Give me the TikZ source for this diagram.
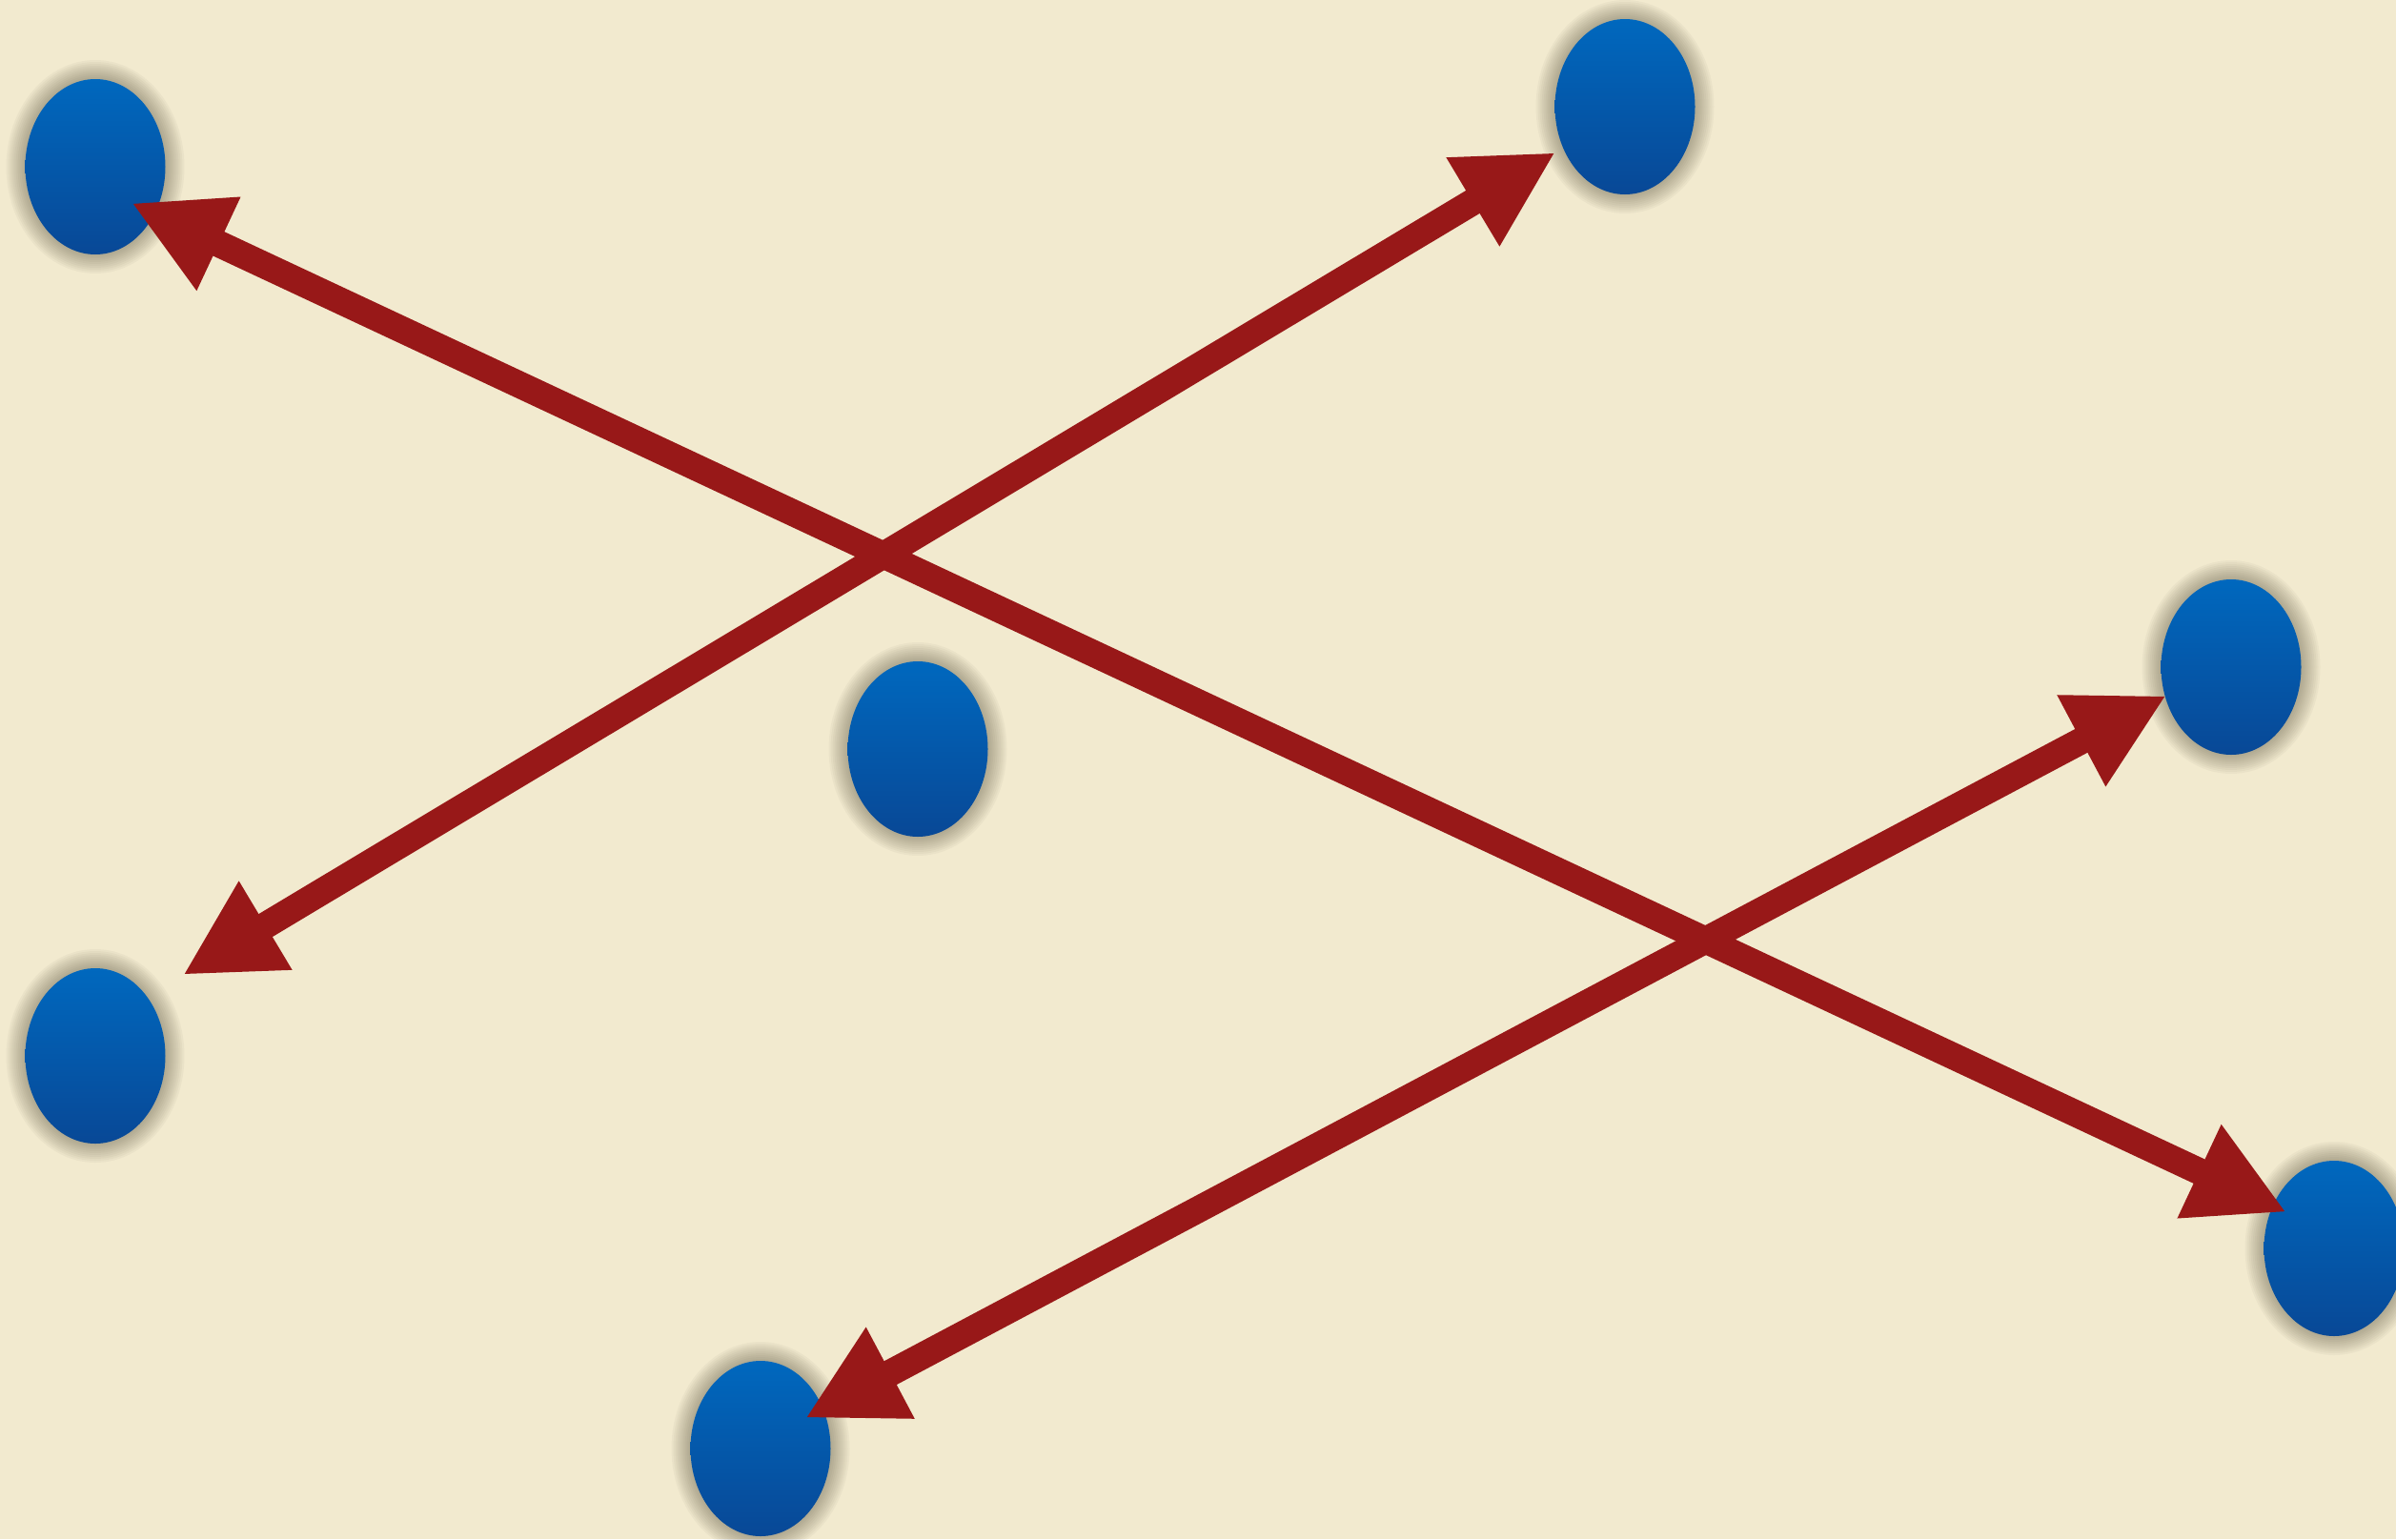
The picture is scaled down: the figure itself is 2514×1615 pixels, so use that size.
\documentclass[tikz,border=0pt]{standalone}
\usetikzlibrary{arrows.meta,shapes.geometric}
\definecolor{bgc}{RGB}{242,234,207}
\definecolor{arrc}{RGB}{152,24,24}
\definecolor{btop}{RGB}{0,104,190}
\definecolor{bbot}{RGB}{8,72,150}
\definecolor{shadc}{RGB}{60,55,35}
\begin{document}
\begin{tikzpicture}[x=1pt,y=-1pt,
  dot/.style={ellipse,minimum width=147pt,minimum height=184pt,inner sep=0pt,
    top color=btop,bottom color=bbot,draw=none},
  link/.style={draw=arrc,line width=28pt,{Triangle[length=101pt,width=101pt]}-{Triangle[length=101pt,width=101pt]}}]
\fill[bgc] (0,0) rectangle (2514,1615);
\useasboundingbox (0,0) rectangle (2514,1615);
\foreach \px/\py in {100/175,1705/112,963/786,100/1108,2341/700,2449/1310,798/1520}{
  \foreach \r in {1,...,10}{
    \fill[shadc,opacity=0.04] (\px,\py) ellipse [x radius={73.5+2*\r}, y radius={92+2*\r}];
  }
}
\node[dot] (n1) at (100,175) {};
\node[dot] (n2) at (1705,112) {};
\node[dot] (n3) at (963,786) {};
\node[dot] (n4) at (100,1108) {};
\node[dot] (n5) at (2341,700) {};
\node[dot] (n6) at (2449,1310) {};
\node[dot] (n7) at (798,1520) {};
\coordinate (a1) at (138,213);
\coordinate (a6) at (2399,1272);
\coordinate (b2) at (1632,160);
\coordinate (b4) at (192,1023);
\coordinate (c5) at (2273,730);
\coordinate (c7) at (845,1488);
\draw[link] (a1) -- (a6);
\draw[link] (b2) -- (b4);
\draw[link] (c5) -- (c7);
\end{tikzpicture}
\end{document}
